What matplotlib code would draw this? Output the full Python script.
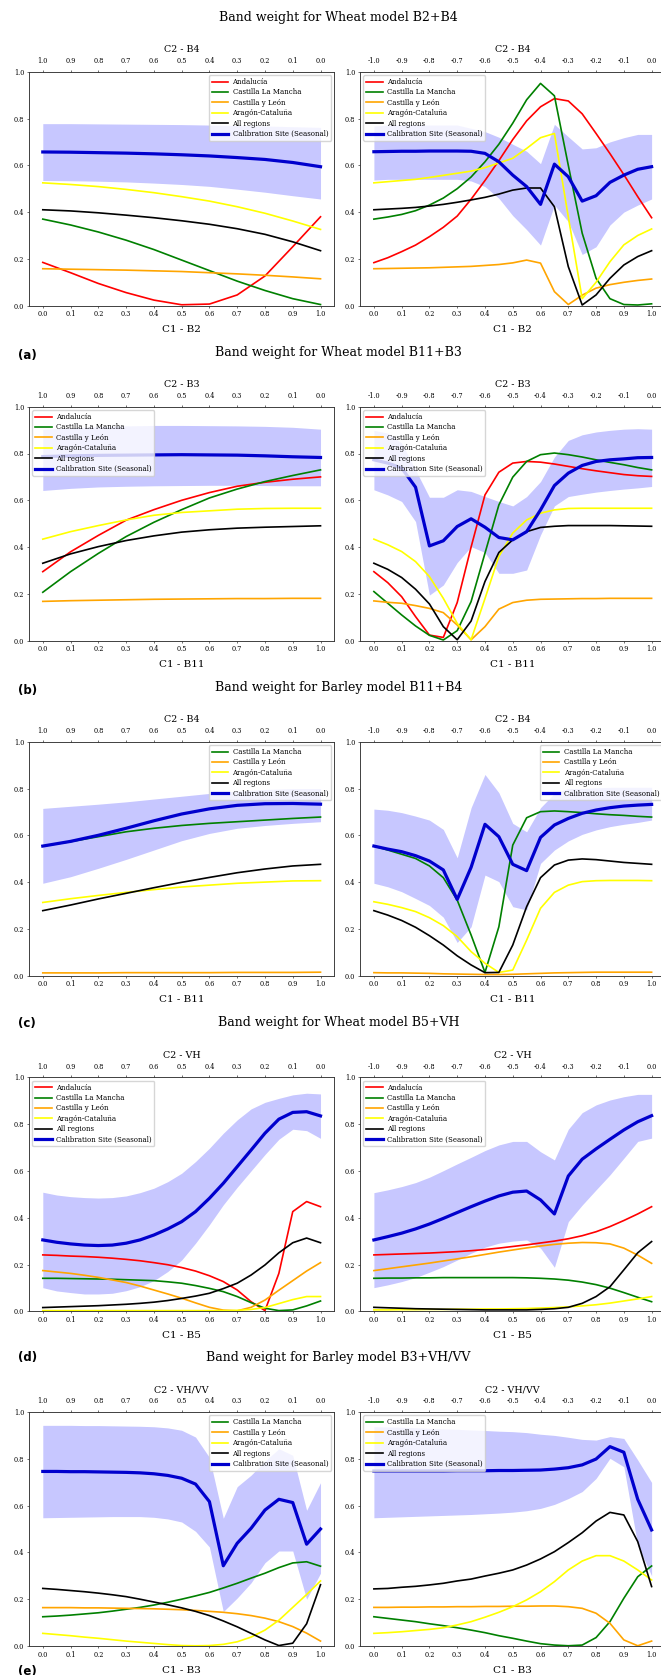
import matplotlib
matplotlib.use("Agg")
import matplotlib.pyplot as plt

# ---------------------------------------------------------------- axes data
C1_FINE = [0.0, 0.05, 0.1, 0.15, 0.2, 0.25, 0.3, 0.35, 0.4, 0.45, 0.5,
           0.55, 0.6, 0.65, 0.7, 0.75, 0.8, 0.85, 0.9, 0.95, 1.0]
C1_COARSE = [0.0, 0.1, 0.2, 0.3, 0.4, 0.5, 0.6, 0.7, 0.8, 0.9, 1.0]

X_TICKS = [0.0, 0.1, 0.2, 0.3, 0.4, 0.5, 0.6, 0.7, 0.8, 0.9, 1.0]
BOTTOM_LABELS = ['0.0', '0.1', '0.2', '0.3', '0.4', '0.5', '0.6', '0.7', '0.8', '0.9', '1.0']
TOP_LABELS_COMPLEMENT = ['1.0', '0.9', '0.8', '0.7', '0.6', '0.5', '0.4', '0.3', '0.2', '0.1', '0.0']
TOP_LABELS_NEGATIVE = ['-1.0', '-0.9', '-0.8', '-0.7', '-0.6', '-0.5', '-0.4', '-0.3', '-0.2', '-0.1', '0.0']
Y_TICKS = [0.0, 0.2, 0.4, 0.6, 0.8, 1.0]

AND = 'Andalucía'
CLM = 'Castilla La Mancha'
CYL = 'Castilla y León'
ARA = 'Aragón-Cataluña'
ALL = 'All regions'
CAL = 'Calibration Site (Seasonal)'

COLORS = {AND: 'red', CLM: 'green', CYL: 'orange', ARA: 'yellow', ALL: 'black'}
CAL_COLOR = 'mediumblue'

# ------------------------------------------------ Wheat B2+B4 (C1 + C2 = 1)
w24_sum_and = [0.185, 0.141, 0.095, 0.056, 0.024, 0.004, 0.007, 0.046, 0.127, 0.252, 0.38]
w24_sum_clm = [0.37, 0.345, 0.315, 0.28, 0.24, 0.195, 0.15, 0.105, 0.065, 0.03, 0.005]
w24_sum_cyl = [0.158, 0.156, 0.154, 0.152, 0.149, 0.146, 0.141, 0.136, 0.130, 0.123, 0.115]
w24_sum_ara = [0.525, 0.518, 0.509, 0.497, 0.483, 0.466, 0.447, 0.423, 0.395, 0.362, 0.326]
w24_sum_all = [0.41, 0.405, 0.397, 0.387, 0.376, 0.363, 0.348, 0.329, 0.305, 0.273, 0.235]
w24_sum_cal = [0.657, 0.656, 0.654, 0.652, 0.649, 0.645, 0.640, 0.633, 0.625, 0.612, 0.594]
w24_sum_hi = [0.778, 0.778, 0.777, 0.776, 0.775, 0.774, 0.772, 0.77, 0.768, 0.765, 0.762]
w24_sum_lo = [0.535, 0.534, 0.532, 0.529, 0.524, 0.518, 0.51, 0.498, 0.485, 0.47, 0.456]

# ------------------------------------------- Wheat B2+B4 (C2 = C1 - 1)
w24_dif_and = [0.184, 0.205, 0.231, 0.259, 0.295, 0.335, 0.383, 0.455, 0.535, 0.62, 0.71,
               0.79, 0.85, 0.885, 0.875, 0.82, 0.736, 0.65, 0.56, 0.466, 0.376]
w24_dif_clm = [0.37, 0.379, 0.39, 0.406, 0.43, 0.46, 0.50, 0.55, 0.615, 0.69, 0.78,
               0.88, 0.95, 0.897, 0.6, 0.31, 0.117, 0.03, 0.005, 0.003, 0.008]
w24_dif_cyl = [0.158, 0.159, 0.160, 0.161, 0.162, 0.164, 0.166, 0.168, 0.172, 0.176, 0.183,
               0.195, 0.182, 0.06, 0.005, 0.045, 0.075, 0.09, 0.10, 0.108, 0.114]
w24_dif_ara = [0.525, 0.53, 0.535, 0.54, 0.548, 0.557, 0.566, 0.575, 0.59, 0.61, 0.63,
               0.672, 0.718, 0.736, 0.38, 0.03, 0.10, 0.188, 0.26, 0.30, 0.328]
w24_dif_all = [0.41, 0.413, 0.416, 0.42, 0.426, 0.433, 0.442, 0.452, 0.463, 0.477, 0.494,
               0.503, 0.503, 0.423, 0.167, 0.003, 0.046, 0.117, 0.174, 0.21, 0.235]
w24_dif_cal = [0.658, 0.659, 0.66, 0.66, 0.661, 0.661, 0.661, 0.66, 0.651, 0.615, 0.558,
               0.509, 0.433, 0.605, 0.551, 0.447, 0.47, 0.527, 0.558, 0.583, 0.594]
w24_dif_hi = [0.768, 0.772, 0.772, 0.772, 0.772, 0.772, 0.772, 0.758, 0.744, 0.72, 0.69,
              0.66, 0.607, 0.775, 0.722, 0.67, 0.675, 0.70, 0.718, 0.732, 0.732]
w24_dif_lo = [0.537, 0.54, 0.54, 0.54, 0.54, 0.54, 0.54, 0.533, 0.509, 0.459, 0.385,
              0.325, 0.259, 0.43, 0.359, 0.219, 0.252, 0.345, 0.40, 0.43, 0.456]

# ----------------------------------------------- Wheat B11+B3 (C1 + C2 = 1)
w113_sum_and = [0.295, 0.38, 0.45, 0.515, 0.56, 0.60, 0.633, 0.66, 0.677, 0.69, 0.70]
w113_sum_clm = [0.207, 0.295, 0.373, 0.445, 0.506, 0.56, 0.61, 0.648, 0.68, 0.706, 0.73]
w113_sum_cyl = [0.168, 0.171, 0.173, 0.175, 0.177, 0.178, 0.179, 0.18, 0.18, 0.181, 0.181]
w113_sum_ara = [0.434, 0.466, 0.492, 0.516, 0.536, 0.548, 0.555, 0.562, 0.565, 0.566, 0.566]
w113_sum_all = [0.331, 0.371, 0.402, 0.428, 0.448, 0.464, 0.474, 0.481, 0.485, 0.488, 0.491]
w113_sum_cal = [0.787, 0.79, 0.792, 0.793, 0.794, 0.795, 0.794, 0.793, 0.79, 0.786, 0.783]
w113_sum_hi = [0.903, 0.91, 0.915, 0.918, 0.92, 0.92, 0.919, 0.918, 0.916, 0.912, 0.904]
w113_sum_lo = [0.642, 0.651, 0.657, 0.66, 0.662, 0.663, 0.664, 0.664, 0.663, 0.662, 0.662]

# ------------------------------------------ Wheat B11+B3 (C2 = C1 - 1)
w113_dif_and = [0.295, 0.248, 0.188, 0.103, 0.024, 0.014, 0.163, 0.40, 0.623, 0.72, 0.759,
                0.766, 0.763, 0.755, 0.745, 0.735, 0.726, 0.718, 0.71, 0.705, 0.702]
w113_dif_clm = [0.21, 0.16, 0.11, 0.063, 0.023, 0.003, 0.043, 0.167, 0.374, 0.58, 0.699,
                0.766, 0.795, 0.802, 0.795, 0.785, 0.773, 0.762, 0.752, 0.74, 0.73]
w113_dif_cyl = [0.17, 0.164, 0.16, 0.15, 0.138, 0.12, 0.067, 0.004, 0.06, 0.135, 0.163,
                0.173, 0.177, 0.178, 0.179, 0.18, 0.18, 0.181, 0.181, 0.181, 0.181]
w113_dif_ara = [0.434, 0.41, 0.381, 0.338, 0.274, 0.181, 0.074, 0.004, 0.18, 0.36, 0.46,
                0.516, 0.545, 0.559, 0.565, 0.566, 0.566, 0.566, 0.566, 0.566, 0.566]
w113_dif_all = [0.331, 0.305, 0.27, 0.22, 0.157, 0.06, 0.004, 0.084, 0.253, 0.377, 0.431,
                0.466, 0.484, 0.489, 0.492, 0.492, 0.492, 0.492, 0.491, 0.49, 0.489]
w113_dif_cal = [0.773, 0.759, 0.738, 0.656, 0.405, 0.427, 0.488, 0.521, 0.485, 0.441, 0.431,
                0.466, 0.559, 0.663, 0.716, 0.749, 0.766, 0.773, 0.777, 0.782, 0.783]
w113_dif_hi = [0.899, 0.887, 0.845, 0.73, 0.613, 0.613, 0.645, 0.638, 0.616, 0.595, 0.576,
               0.616, 0.68, 0.785, 0.856, 0.88, 0.892, 0.899, 0.904, 0.906, 0.904]
w113_dif_lo = [0.645, 0.623, 0.595, 0.509, 0.195, 0.238, 0.334, 0.402, 0.377, 0.288, 0.288,
               0.302, 0.452, 0.576, 0.616, 0.626, 0.635, 0.642, 0.648, 0.653, 0.659]

# ---------------------------------------------- Barley B11+B4 (C1 + C2 = 1)
b114_sum_clm = [0.554, 0.573, 0.594, 0.615, 0.63, 0.642, 0.651, 0.658, 0.665, 0.672, 0.678]
b114_sum_cyl = [0.012, 0.012, 0.012, 0.013, 0.013, 0.013, 0.013, 0.014, 0.014, 0.014, 0.015]
b114_sum_ara = [0.313, 0.329, 0.343, 0.356, 0.368, 0.379, 0.387, 0.395, 0.40, 0.405, 0.406]
b114_sum_all = [0.278, 0.302, 0.328, 0.352, 0.376, 0.399, 0.42, 0.44, 0.456, 0.469, 0.476]
b114_sum_cal = [0.554, 0.574, 0.6, 0.63, 0.662, 0.691, 0.713, 0.728, 0.735, 0.736, 0.733]
b114_sum_hi = [0.715, 0.724, 0.733, 0.743, 0.755, 0.767, 0.779, 0.789, 0.796, 0.8, 0.8]
b114_sum_lo = [0.395, 0.423, 0.459, 0.497, 0.537, 0.577, 0.608, 0.63, 0.642, 0.651, 0.658]

# ----------------------------------------- Barley B11+B4 (C2 = C1 - 1)
b114_dif_clm = [0.554, 0.537, 0.519, 0.501, 0.469, 0.419, 0.323, 0.174, 0.014, 0.209, 0.558,
                0.675, 0.701, 0.704, 0.701, 0.697, 0.692, 0.688, 0.685, 0.681, 0.678]
b114_dif_cyl = [0.013, 0.012, 0.012, 0.011, 0.01, 0.008, 0.007, 0.006, 0.005, 0.005, 0.006,
                0.008, 0.01, 0.012, 0.013, 0.014, 0.015, 0.015, 0.015, 0.015, 0.015]
b114_dif_ara = [0.316, 0.305, 0.291, 0.274, 0.248, 0.214, 0.167, 0.103, 0.053, 0.014, 0.024,
                0.152, 0.288, 0.356, 0.387, 0.402, 0.406, 0.407, 0.407, 0.407, 0.406]
b114_dif_all = [0.278, 0.259, 0.236, 0.207, 0.171, 0.131, 0.085, 0.046, 0.013, 0.014, 0.131,
                0.295, 0.419, 0.473, 0.494, 0.499, 0.496, 0.49, 0.484, 0.48, 0.476]
b114_dif_cal = [0.554, 0.541, 0.53, 0.513, 0.49, 0.452, 0.326, 0.463, 0.647, 0.594, 0.476,
                0.449, 0.591, 0.644, 0.672, 0.694, 0.708, 0.718, 0.725, 0.729, 0.732]
b114_dif_hi = [0.712, 0.707, 0.697, 0.682, 0.665, 0.625, 0.504, 0.718, 0.86, 0.782, 0.651,
               0.615, 0.718, 0.779, 0.80, 0.80, 0.803, 0.805, 0.805, 0.805, 0.805]
b114_dif_lo = [0.395, 0.38, 0.359, 0.33, 0.30, 0.25, 0.142, 0.209, 0.43, 0.402, 0.295,
               0.281, 0.48, 0.537, 0.576, 0.604, 0.623, 0.637, 0.647, 0.655, 0.665]

# ------------------------------------------------ Wheat B5+VH (C1 + C2 = 1)
w5vh_sum_and = [0.241, 0.239, 0.236, 0.234, 0.231, 0.227, 0.222, 0.216, 0.208, 0.199, 0.187,
                0.172, 0.152, 0.127, 0.091, 0.041, 0.003, 0.162, 0.426, 0.469, 0.447]
w5vh_sum_clm = [0.141, 0.141, 0.14, 0.139, 0.138, 0.137, 0.135, 0.133, 0.131, 0.126, 0.12,
                0.11, 0.098, 0.084, 0.063, 0.037, 0.013, 0.003, 0.006, 0.023, 0.044]
w5vh_sum_cyl = [0.174, 0.168, 0.162, 0.154, 0.145, 0.134, 0.123, 0.108, 0.091, 0.074, 0.056,
                0.036, 0.017, 0.005, 0.002, 0.017, 0.048, 0.09, 0.131, 0.172, 0.208]
w5vh_sum_ara = [0.003, 0.003, 0.003, 0.003, 0.003, 0.003, 0.003, 0.003, 0.003, 0.003, 0.003,
                0.003, 0.003, 0.003, 0.004, 0.008, 0.016, 0.033, 0.05, 0.063, 0.063]
w5vh_sum_all = [0.016, 0.018, 0.02, 0.022, 0.024, 0.027, 0.03, 0.034, 0.039, 0.046, 0.055,
                0.065, 0.077, 0.097, 0.12, 0.155, 0.198, 0.25, 0.293, 0.313, 0.293]
w5vh_sum_cal = [0.305, 0.295, 0.288, 0.283, 0.281, 0.283, 0.291, 0.305, 0.326, 0.352, 0.383,
                0.426, 0.483, 0.547, 0.618, 0.689, 0.761, 0.821, 0.85, 0.853, 0.835]
w5vh_sum_hi = [0.509, 0.497, 0.49, 0.486, 0.484, 0.486, 0.493, 0.507, 0.526, 0.554, 0.59,
               0.64, 0.697, 0.761, 0.818, 0.865, 0.893, 0.91, 0.925, 0.932, 0.929]
w5vh_sum_lo = [0.101, 0.087, 0.08, 0.074, 0.074, 0.077, 0.088, 0.105, 0.131, 0.17, 0.219,
               0.291, 0.37, 0.455, 0.53, 0.6, 0.67, 0.735, 0.778, 0.772, 0.739]

# ------------------------------------------- Wheat B5+VH (C2 = C1 - 1)
w5vh_dif_and = [0.241, 0.243, 0.245, 0.247, 0.249, 0.252, 0.255, 0.259, 0.264, 0.27, 0.277,
                0.284, 0.292, 0.3, 0.31, 0.323, 0.34, 0.362, 0.388, 0.416, 0.447]
w5vh_dif_clm = [0.141, 0.142, 0.142, 0.143, 0.143, 0.144, 0.144, 0.144, 0.144, 0.144, 0.144,
                0.143, 0.141, 0.138, 0.133, 0.125, 0.114, 0.099, 0.08, 0.06, 0.041]
w5vh_dif_cyl = [0.174, 0.182, 0.19, 0.198, 0.206, 0.215, 0.224, 0.233, 0.243, 0.253, 0.262,
                0.271, 0.279, 0.286, 0.291, 0.294, 0.293, 0.288, 0.27, 0.24, 0.205]
w5vh_dif_ara = [0.006, 0.006, 0.007, 0.007, 0.008, 0.008, 0.009, 0.009, 0.01, 0.01, 0.011,
                0.012, 0.014, 0.016, 0.019, 0.023, 0.028, 0.035, 0.044, 0.053, 0.063]
w5vh_dif_all = [0.017, 0.015, 0.013, 0.011, 0.01, 0.009, 0.008, 0.007, 0.006, 0.006, 0.006,
                0.006, 0.008, 0.011, 0.017, 0.034, 0.063, 0.105, 0.177, 0.25, 0.298]
w5vh_dif_cal = [0.305, 0.319, 0.334, 0.352, 0.373, 0.397, 0.422, 0.447, 0.471, 0.493, 0.509,
                0.514, 0.476, 0.416, 0.578, 0.65, 0.694, 0.735, 0.775, 0.81, 0.836]
w5vh_dif_hi = [0.507, 0.519, 0.533, 0.55, 0.573, 0.601, 0.63, 0.658, 0.687, 0.711, 0.726,
               0.726, 0.682, 0.647, 0.778, 0.849, 0.882, 0.903, 0.917, 0.927, 0.927]
w5vh_dif_lo = [0.101, 0.113, 0.127, 0.144, 0.167, 0.191, 0.219, 0.248, 0.274, 0.291, 0.3,
               0.305, 0.27, 0.188, 0.383, 0.454, 0.519, 0.583, 0.654, 0.726, 0.74]

# ------------------------------------------ Barley B3+VH/VV (C1 + C2 = 1)
b3r_sum_clm = [0.125, 0.128, 0.132, 0.137, 0.142, 0.149, 0.157, 0.165, 0.175, 0.187, 0.2,
               0.214, 0.229, 0.248, 0.268, 0.29, 0.311, 0.335, 0.355, 0.36, 0.341]
b3r_sum_cyl = [0.164, 0.164, 0.164, 0.163, 0.163, 0.162, 0.161, 0.16, 0.159, 0.157, 0.155,
               0.152, 0.148, 0.144, 0.138, 0.13, 0.119, 0.104, 0.083, 0.055, 0.021]
b3r_sum_ara = [0.054, 0.049, 0.044, 0.038, 0.033, 0.027, 0.021, 0.016, 0.011, 0.006, 0.002,
               0.001, 0.002, 0.007, 0.018, 0.038, 0.068, 0.11, 0.165, 0.22, 0.278]
b3r_sum_all = [0.246, 0.242, 0.237, 0.232, 0.226, 0.219, 0.211, 0.2, 0.188, 0.176, 0.163,
               0.148, 0.13, 0.107, 0.082, 0.054, 0.026, 0.002, 0.012, 0.095, 0.262]
b3r_sum_cal = [0.746, 0.746, 0.745, 0.745, 0.744, 0.743, 0.742, 0.74, 0.736, 0.729, 0.717,
               0.692, 0.617, 0.343, 0.439, 0.503, 0.581, 0.627, 0.613, 0.435, 0.5]
b3r_sum_hi = [0.943, 0.943, 0.943, 0.942, 0.942, 0.941, 0.94, 0.939, 0.937, 0.932, 0.922,
              0.893, 0.806, 0.546, 0.681, 0.73, 0.79, 0.843, 0.815, 0.58, 0.698]
b3r_sum_lo = [0.548, 0.549, 0.55, 0.551, 0.552, 0.553, 0.553, 0.553, 0.55, 0.543, 0.53,
              0.49, 0.423, 0.147, 0.205, 0.27, 0.356, 0.406, 0.406, 0.2, 0.311]

# ------------------------------------- Barley B3+VH/VV (C2 = C1 - 1)
b3r_dif_clm = [0.125, 0.118, 0.111, 0.104, 0.095, 0.087, 0.078, 0.068, 0.057, 0.044, 0.033,
               0.021, 0.01, 0.004, 0.001, 0.004, 0.036, 0.104, 0.204, 0.296, 0.342]
b3r_dif_cyl = [0.165, 0.165, 0.166, 0.166, 0.167, 0.167, 0.168, 0.168, 0.169, 0.169, 0.17,
               0.17, 0.171, 0.171, 0.168, 0.161, 0.14, 0.097, 0.026, 0.001, 0.021]
b3r_dif_ara = [0.054, 0.057, 0.061, 0.066, 0.071, 0.078, 0.09, 0.104, 0.123, 0.144, 0.168,
               0.197, 0.232, 0.275, 0.325, 0.363, 0.386, 0.386, 0.363, 0.325, 0.282]
b3r_dif_all = [0.244, 0.246, 0.251, 0.255, 0.261, 0.268, 0.278, 0.286, 0.299, 0.311, 0.325,
               0.346, 0.372, 0.403, 0.442, 0.484, 0.534, 0.571, 0.56, 0.446, 0.254]
b3r_dif_cal = [0.748, 0.748, 0.748, 0.748, 0.748, 0.748, 0.749, 0.749, 0.749, 0.75, 0.75,
               0.751, 0.752, 0.756, 0.762, 0.774, 0.799, 0.852, 0.828, 0.627, 0.496]
b3r_dif_hi = [0.937, 0.936, 0.935, 0.933, 0.93, 0.928, 0.926, 0.923, 0.921, 0.918, 0.916,
              0.912, 0.905, 0.9, 0.892, 0.883, 0.88, 0.895, 0.887, 0.795, 0.699]
b3r_dif_lo = [0.548, 0.55, 0.552, 0.554, 0.556, 0.558, 0.56, 0.562, 0.565, 0.568, 0.572,
              0.578, 0.588, 0.605, 0.63, 0.66, 0.716, 0.802, 0.766, 0.43, 0.3]

# ------------------------------------------------------------ panel layout
ROWS = [
    dict(title='Band weight for Wheat model B2+B4', c1='C1 - B2', c2='C2 - B4', tag='(a)',
         left=dict(x=C1_COARSE, lines=[(AND, w24_sum_and), (CLM, w24_sum_clm), (CYL, w24_sum_cyl),
                                       (ARA, w24_sum_ara), (ALL, w24_sum_all)],
                   cal=w24_sum_cal, lo=w24_sum_lo, hi=w24_sum_hi, loc='upper right'),
         right=dict(x=C1_FINE, lines=[(AND, w24_dif_and), (CLM, w24_dif_clm), (CYL, w24_dif_cyl),
                                      (ARA, w24_dif_ara), (ALL, w24_dif_all)],
                    cal=w24_dif_cal, lo=w24_dif_lo, hi=w24_dif_hi, loc='upper left')),
    dict(title='Band weight for Wheat model B11+B3', c1='C1 - B11', c2='C2 - B3', tag='(b)',
         left=dict(x=C1_COARSE, lines=[(AND, w113_sum_and), (CLM, w113_sum_clm), (CYL, w113_sum_cyl),
                                       (ARA, w113_sum_ara), (ALL, w113_sum_all)],
                   cal=w113_sum_cal, lo=w113_sum_lo, hi=w113_sum_hi, loc='upper left'),
         right=dict(x=C1_FINE, lines=[(AND, w113_dif_and), (CLM, w113_dif_clm), (CYL, w113_dif_cyl),
                                      (ARA, w113_dif_ara), (ALL, w113_dif_all)],
                    cal=w113_dif_cal, lo=w113_dif_lo, hi=w113_dif_hi, loc='upper left')),
    dict(title='Band weight for Barley model B11+B4', c1='C1 - B11', c2='C2 - B4', tag='(c)',
         left=dict(x=C1_COARSE, lines=[(CLM, b114_sum_clm), (CYL, b114_sum_cyl),
                                       (ARA, b114_sum_ara), (ALL, b114_sum_all)],
                   cal=b114_sum_cal, lo=b114_sum_lo, hi=b114_sum_hi, loc='upper right'),
         right=dict(x=C1_FINE, lines=[(CLM, b114_dif_clm), (CYL, b114_dif_cyl),
                                      (ARA, b114_dif_ara), (ALL, b114_dif_all)],
                    cal=b114_dif_cal, lo=b114_dif_lo, hi=b114_dif_hi, loc='upper right')),
    dict(title='Band weight for Wheat model B5+VH', c1='C1 - B5', c2='C2 - VH', tag='(d)',
         left=dict(x=C1_FINE, lines=[(AND, w5vh_sum_and), (CLM, w5vh_sum_clm), (CYL, w5vh_sum_cyl),
                                     (ARA, w5vh_sum_ara), (ALL, w5vh_sum_all)],
                   cal=w5vh_sum_cal, lo=w5vh_sum_lo, hi=w5vh_sum_hi, loc='upper left'),
         right=dict(x=C1_FINE, lines=[(AND, w5vh_dif_and), (CLM, w5vh_dif_clm), (CYL, w5vh_dif_cyl),
                                      (ARA, w5vh_dif_ara), (ALL, w5vh_dif_all)],
                    cal=w5vh_dif_cal, lo=w5vh_dif_lo, hi=w5vh_dif_hi, loc='upper left')),
    dict(title='Band weight for Barley model B3+VH/VV', c1='C1 - B3', c2='C2 - VH/VV', tag='(e)',
         left=dict(x=C1_FINE, lines=[(CLM, b3r_sum_clm), (CYL, b3r_sum_cyl),
                                     (ARA, b3r_sum_ara), (ALL, b3r_sum_all)],
                   cal=b3r_sum_cal, lo=b3r_sum_lo, hi=b3r_sum_hi, loc='upper right'),
         right=dict(x=C1_FINE, lines=[(CLM, b3r_dif_clm), (CYL, b3r_dif_cyl),
                                      (ARA, b3r_dif_ara), (ALL, b3r_dif_all)],
                    cal=b3r_dif_cal, lo=b3r_dif_lo, hi=b3r_dif_hi, loc='upper left')),
]

# ------------------------------------------------------------------ style
plt.rcParams.update({
    'font.family': 'DejaVu Serif',
    'axes.linewidth': 0.5,
    'xtick.labelsize': 4.7,
    'ytick.labelsize': 4.7,
    'xtick.major.size': 1.6,
    'ytick.major.size': 1.6,
    'xtick.major.width': 0.4,
    'ytick.major.width': 0.4,
    'xtick.major.pad': 1.7,
    'ytick.major.pad': 1.7,
    'legend.fontsize': 5.0,
})

W, H = 661, 1675
fig = plt.figure(figsize=(W / 100, H / 100), dpi=100)

AX_W = 305.5
AX_H = 234.0
LEFT_X = 28.9
RIGHT_X = 360.0
AX_BOTTOMS = [305.7, 640.7, 975.7, 1311.3, 1646.0]
TITLE_Y = [17.3, 352.7, 687.0, 1022.7, 1357.0]
TAG_Y = [355.0, 690.0, 1023.0, 1358.0, 1671.0]


def draw(ax, spec, top_labels, c1, c2):
    x = spec['x']
    ax.fill_between(x, spec['lo'], spec['hi'], color='blue', alpha=0.22, linewidth=0)
    for name, vals in spec['lines']:
        ax.plot(x, vals, color=COLORS[name], lw=1.2, label=name)
    ax.plot(x, spec['cal'], color=CAL_COLOR, lw=2.3, label=CAL)
    ax.set_xlim(-0.05, 1.05)
    ax.set_ylim(0, 1)
    ax.set_xticks(X_TICKS)
    ax.set_xticklabels(BOTTOM_LABELS)
    ax.set_yticks(Y_TICKS)
    ax.set_xlabel(c1, fontsize=7.5, labelpad=5.0)
    for sp in ax.spines.values():
        sp.set_color('#333333')
    ax.legend(loc=spec['loc'], handlelength=2.4, handletextpad=0.6,
              labelspacing=0.35, borderpad=0.4, framealpha=0.8)
    top = ax.twiny()
    top.set_xlim(ax.get_xlim())
    top.set_xticks(X_TICKS)
    top.set_xticklabels(top_labels)
    top.tick_params(axis='x', pad=3.2)
    top.set_xlabel(c2, fontsize=6.8, labelpad=3.6)
    for sp in top.spines.values():
        sp.set_color('#333333')


for i, row in enumerate(ROWS):
    y0 = 1 - AX_BOTTOMS[i] / H
    ax_l = fig.add_axes([LEFT_X / W, y0, AX_W / W, AX_H / H])
    ax_r = fig.add_axes([RIGHT_X / W, y0, AX_W / W, AX_H / H])
    draw(ax_l, row['left'], TOP_LABELS_COMPLEMENT, row['c1'], row['c2'])
    draw(ax_r, row['right'], TOP_LABELS_NEGATIVE, row['c1'], row['c2'])
    fig.text(338.5 / W, 1 - TITLE_Y[i] / H, row['title'], ha='center', va='center', fontsize=9)
    fig.text(17.7 / W, 1 - TAG_Y[i] / H, row['tag'], ha='left', va='center',
             fontsize=8.5, fontweight='bold', family='DejaVu Sans')

fig.savefig('out.png', dpi=100)
